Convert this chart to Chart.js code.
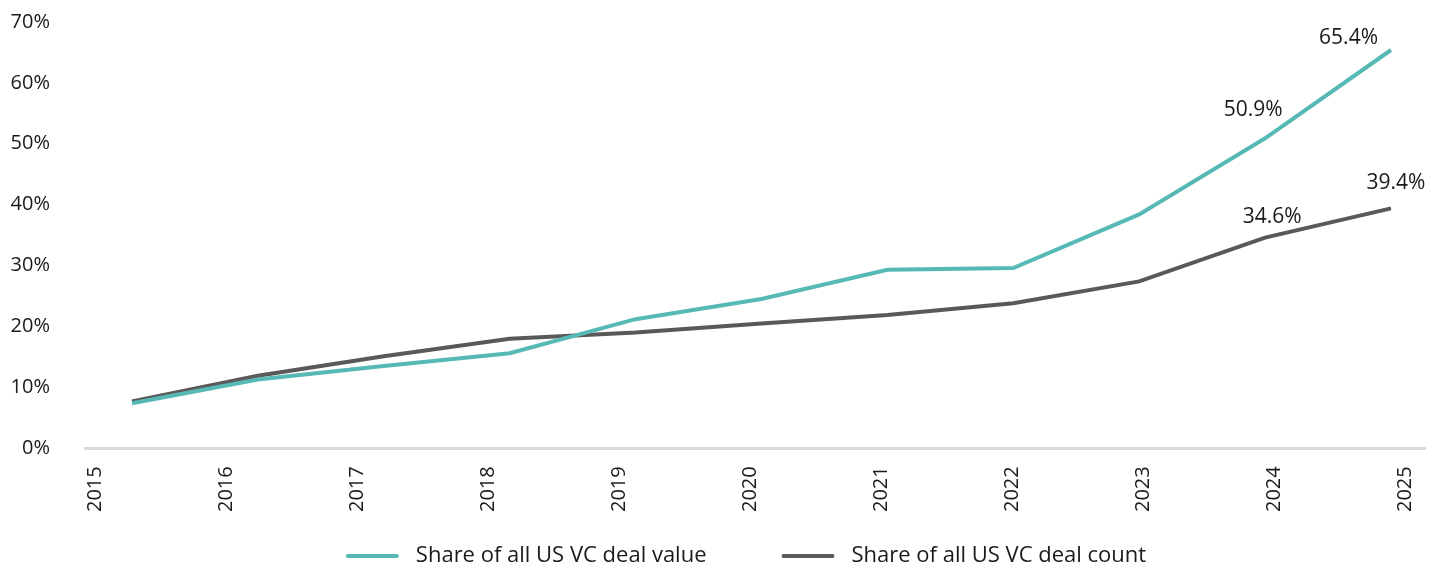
<!DOCTYPE html>
<html>
<head>
<meta charset="utf-8">
<script src="https://cdn.jsdelivr.net/npm/chart.js@4"></script>
<style>
  html, body { margin: 0; padding: 0; background: #fff; }
  #wrap { width: 1446px; height: 566px; }
</style>
</head>
<body>
<div id="wrap"><canvas id="share-chart"></canvas></div>
<script>
// Share of US VC deals, by year
const years = ['2015', '2016', '2017', '2018', '2019', '2020', '2021', '2022', '2023', '2024', '2025'];
const dealValue = [7.4, 11.3, 13.5, 15.6, 21.2, 24.5, 29.3, 29.6, 38.4, 50.9, 65.4];
const dealCount = [7.7, 11.9, 15.1, 18.0, 19.0, 20.5, 21.9, 23.8, 27.4, 34.6, 39.4];
const yTicks = [0, 10, 20, 30, 40, 50, 60, 70];
const labelledPoints = [9, 10];

const teal = 'rgb(87, 185, 182)';
const grey = 'rgb(89, 89, 89)';
const textColor = '#1a1a1a';
const fontFamily = "'Open Sans', sans-serif";

Chart.defaults.font.family = fontFamily;
Chart.defaults.color = textColor;

const toPoints = arr => arr.map((v, i) => ({ x: i, y: v }));

// value labels above the last points
const pointLabels = {
  id: 'pointLabels',
  afterDatasetsDraw(chart, args, opts) {
    const ctx = chart.ctx;
    ctx.save();
    ctx.font = '21px ' + fontFamily;
    ctx.fillStyle = textColor;
    ctx.textBaseline = 'middle';
    chart.data.datasets.forEach((ds, di) => {
      const meta = chart.getDatasetMeta(di);
      labelledPoints.forEach((idx, k) => {
        const pt = meta.data[idx];
        const off = opts.offsets[di][k];
        ctx.textAlign = off.align;
        ctx.fillText(ds.data[idx].y.toFixed(1) + '%', pt.x + off.dx, pt.y + off.dy);
      });
    });
    ctx.restore();
  }
};

// legend row under the axis: line swatch + dataset label
const lineLegend = {
  id: 'lineLegend',
  afterDraw(chart, args, opts) {
    const ctx = chart.ctx;
    ctx.save();
    ctx.font = opts.fontSize + 'px ' + fontFamily;
    ctx.textBaseline = 'middle';
    ctx.textAlign = 'left';
    const items = chart.data.datasets.map(ds => ({
      label: ds.label,
      color: ds.borderColor,
      w: opts.swatch + opts.gap + ctx.measureText(ds.label).width
    }));
    const total = items.reduce((s, it) => s + it.w, 0) + opts.spacing * (items.length - 1);
    let x = (chart.width - total) / 2 + opts.shift;
    const y = chart.height - opts.bottom;
    items.forEach(it => {
      ctx.strokeStyle = it.color;
      ctx.lineWidth = 4;
      ctx.lineCap = 'round';
      ctx.beginPath();
      ctx.moveTo(x + 2, y);
      ctx.lineTo(x + opts.swatch - 2, y);
      ctx.stroke();
      ctx.fillStyle = textColor;
      ctx.fillText(it.label, x + opts.swatch + opts.gap, y);
      x += it.w + opts.spacing;
    });
    ctx.restore();
  }
};

const shareData = {
  datasets: [
    {
      label: 'Share of all US VC deal value',
      data: toPoints(dealValue),
      borderColor: teal,
      backgroundColor: teal,
      borderWidth: 4,
      pointRadius: 0,
      tension: 0,
      xAxisID: 'xd'
    },
    {
      label: 'Share of all US VC deal count',
      data: toPoints(dealCount),
      borderColor: grey,
      backgroundColor: grey,
      borderWidth: 4,
      pointRadius: 0,
      tension: 0,
      xAxisID: 'xd'
    }
  ]
};

const shareConfig = {
  type: 'line',
  data: shareData,
  plugins: [pointLabels, lineLegend],
  options: {
    responsive: true,
    maintainAspectRatio: false,
    animation: false,
    layout: { padding: { top: 22, right: 21, left: 0, bottom: 44 } },
    scales: {
      // year ticks along the bottom
      x: {
        type: 'linear',
        min: -0.076,
        max: 10.153,
        afterBuildTicks: axis => { axis.ticks = years.map((y, i) => ({ value: i })); },
        afterFit: axis => { axis.paddingLeft = 0; axis.paddingRight = 0; axis.paddingTop = 0; },
        ticks: {
          callback: (v, i) => years[i],
          minRotation: 90,
          maxRotation: 90,
          padding: 10,
          font: { size: 20 }
        },
        grid: { display: false },
        border: { display: true, color: '#d9d9d9', width: 3 }
      },
      // data positions
      xd: {
        type: 'linear',
        display: false,
        min: -0.373,
        max: 10.27
      },
      y: {
        min: 0,
        max: 70,
        afterBuildTicks: axis => { axis.ticks = yTicks.map(v => ({ value: v })); },
        afterFit: axis => { axis.width = 85; axis.paddingTop = 0; axis.paddingBottom = 0; },
        ticks: {
          callback: v => v + '%',
          padding: 35,
          font: { size: 20 }
        },
        grid: { display: false, drawTicks: false },
        border: { display: false }
      }
    },
    plugins: {
      legend: { display: false },
      tooltip: { enabled: false },
      lineLegend: { fontSize: 22, swatch: 53, gap: 17, spacing: 75, bottom: 10, shift: 23 },
      pointLabels: {
        offsets: [
          [{ dx: -12, dy: -28, align: 'center' }, { dx: -13, dy: -12, align: 'right' }],
          [{ dx: 7, dy: -21, align: 'center' }, { dx: 5, dy: -25, align: 'center' }]
        ]
      }
    }
  }
};

new Chart(document.getElementById('share-chart'), shareConfig);
</script>
</body>
</html>
